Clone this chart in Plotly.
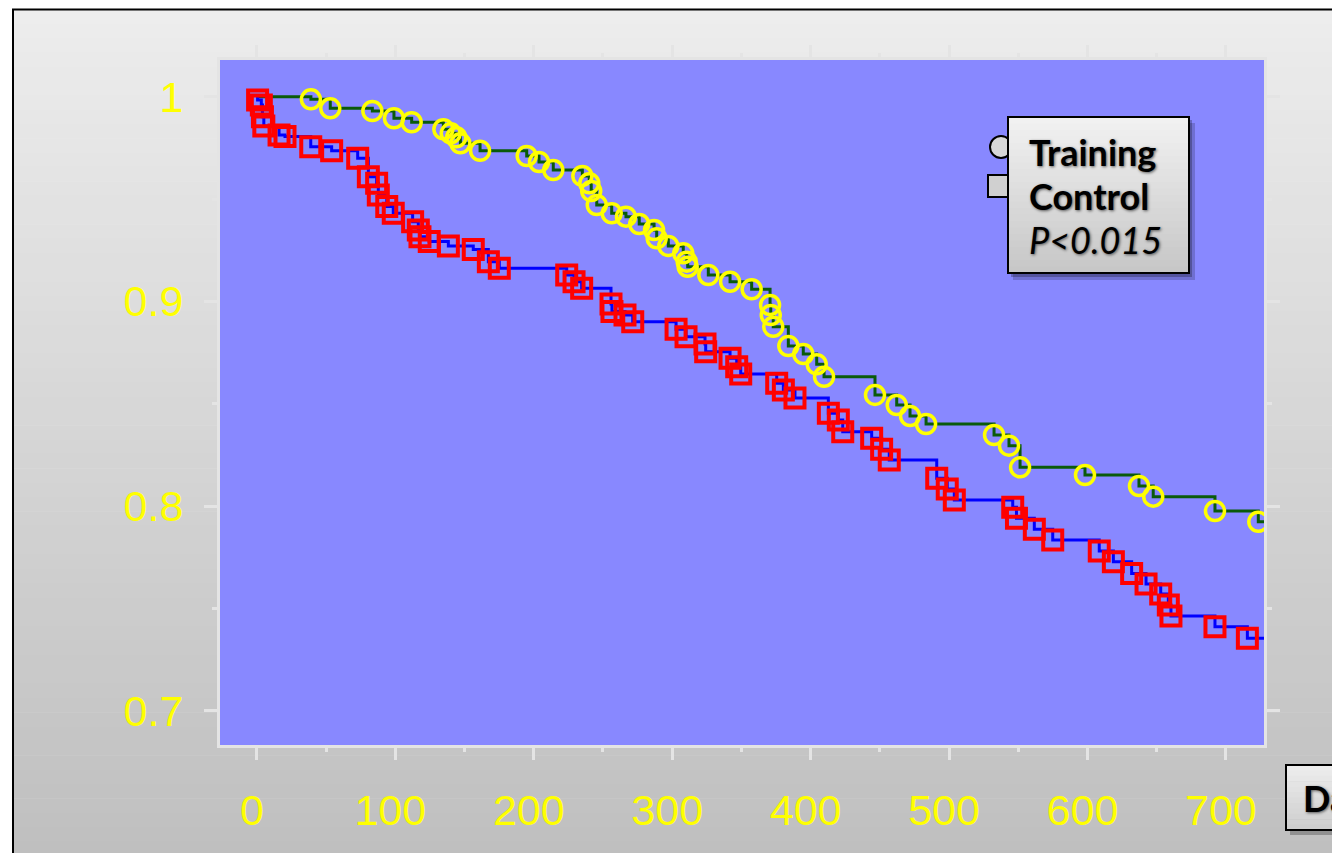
import plotly.graph_objects as go

# ---------------- data ----------------
train_days = [39, 53, 83.4, 99, 111.8, 134.7, 140, 144, 147, 161.2, 194.9, 203.8, 214.1,
              235.1, 240.1, 241.5, 245.5, 256.3, 266.6, 276.2, 286.9, 288.8, 297.2, 308,
              310.5, 311.2, 326.1, 341.8, 357.4, 370.7, 371.2, 373, 383.9, 394.7, 404.4,
              409.7, 446.5, 462.2, 471.8, 483.4, 532.5, 543.3, 551.3, 598.2, 637.2, 647.5,
              692.1, 723.4]
train_surv = [0.9987, 0.9943, 0.9930, 0.9895, 0.9875, 0.9841, 0.9821, 0.9802, 0.9772,
              0.9736, 0.9710, 0.9681, 0.9642, 0.9613, 0.9577, 0.9539, 0.9471, 0.9430,
              0.9414, 0.9378, 0.9349, 0.9308, 0.9271, 0.9235, 0.9194, 0.9169, 0.9129,
              0.9096, 0.9059, 0.8982, 0.8933, 0.8876, 0.8782, 0.8743, 0.8693, 0.8632,
              0.8543, 0.8494, 0.8440, 0.8401, 0.8347, 0.8295, 0.8189, 0.8152, 0.8098,
              0.8046, 0.7976, 0.7923]

ctrl_days = [0.5, 3.2, 4, 5, 16, 20.3, 38.9, 54, 72.8, 80.5, 86.5, 87.7, 93.8, 98.5,
             112.5, 116.6, 117.8, 124.5, 138.3, 156.3, 167.2, 175.1, 223.8, 229.1, 234.6,
             255.8, 256.5, 265.9, 271.5, 302.8, 310, 323.7, 324.2, 341.8, 346.6, 349.5,
             375.5, 380.3, 388.7, 412.8, 420, 423.2, 444.1, 451.3, 456.8, 491.1, 498.7,
             503.8, 546, 548.7, 561.6, 574.9, 608.5, 618.7, 631.9, 642.3, 652.9, 658.4,
             660.3, 692.1, 715.5]
ctrl_surv = [0.9984, 0.9959, 0.9902, 0.9857, 0.9813, 0.9805, 0.9756, 0.9736, 0.9699,
             0.9609, 0.9577, 0.9520, 0.9463, 0.9430, 0.9389, 0.9349, 0.9316, 0.9292,
             0.9271, 0.9254, 0.9194, 0.9162, 0.9129, 0.9096, 0.9064, 0.8987, 0.8950,
             0.8933, 0.8901, 0.8864, 0.8827, 0.8792, 0.8754, 0.8722, 0.8681, 0.8645,
             0.8600, 0.8567, 0.8528, 0.8453, 0.8420, 0.8363, 0.8331, 0.8277, 0.8225,
             0.8136, 0.8083, 0.8030, 0.7994, 0.7940, 0.7886, 0.7834, 0.7780, 0.7728,
             0.7671, 0.7619, 0.7570, 0.7517, 0.7463, 0.7410, 0.7354]

start_day = 0
start_surv = 1.0
end_day = 730

x_tickvals = [0, 100, 200, 300, 400, 500, 600, 700]
x_minorvals = [50, 150, 250, 350, 450, 550, 650]
y_tickvals = [0.7, 0.8, 0.9, 1.0]
y_ticktext = ["0.7", "0.8", "0.9", "1"]
y_minorvals = [0.75, 0.85, 0.95]

legend_labels = ["Training", "Control"]
p_label = "P&lt;0.015"
x_title = "Days"

# ---------------- layout geometry (screen pixels, page offset 8px) ----------------
OFF = 8
W, H = 1340, 853
ML, MT = 220 - OFF, 60 - OFF
PR, PB = 1264 - OFF, 745 - OFF
MR, MB = W - PR, H - PB
PW, PH = PR - ML, PB - MT


def px(x):
    return (x - OFF - ML) / PW


def py(y):
    return (PB - (y - OFF)) / PH


def gray(v):
    v = int(round(v))
    return f"rgb({v},{v},{v})"


shapes = []


def gradient_rect(x0, y0, x1, y1, c_top, c_bot, n):
    for i in range(n):
        ya = y0 + (y1 - y0) * i / n
        yb = y0 + (y1 - y0) * (i + 1) / n + 0.6
        c = c_top + (c_bot - c_top) * (i + 0.5) / n
        shapes.append(dict(type="rect", xref="paper", yref="paper", layer="below",
                           x0=px(x0), x1=px(x1), y0=py(ya), y1=py(yb),
                           fillcolor=gray(c), line=dict(width=0)))


# page background gradient + frame
gradient_rect(13, 9, 1335, 870, 237, 190, 60)
shapes.append(dict(type="rect", xref="paper", yref="paper", layer="below",
                   x0=px(13), x1=px(1335), y0=py(9.5), y1=py(880),
                   fillcolor="rgba(0,0,0,0)", line=dict(color="black", width=2)))
# plot area
shapes.append(dict(type="rect", xref="paper", yref="paper", layer="below",
                   x0=0, x1=1, y0=0, y1=1, fillcolor="#8888ff", line=dict(width=0)))


def above_rect(x0, y0, x1, y1, fill, lc=None, lw=0, kind="rect"):
    shapes.append(dict(type=kind, xref="paper", yref="paper", layer="above",
                       x0=px(x0), x1=px(x1), y0=py(y0), y1=py(y1),
                       fillcolor=fill,
                       line=dict(color=lc or "rgba(0,0,0,0)", width=lw)))


def above_gradient(x0, y0, x1, y1, c_top, c_bot, n):
    for i in range(n):
        ya = y0 + (y1 - y0) * i / n
        yb = y0 + (y1 - y0) * (i + 1) / n + 0.6
        c = c_top + (c_bot - c_top) * (i + 0.5) / n
        above_rect(x0, ya, x1, min(yb, y1), gray(c))


# legend symbols peeking behind the box
above_rect(990, 136, 1012, 158, "#d8d8d8", "black", 2, kind="circle")
above_rect(988, 175, 1010, 197, "#d0d0d0", "black", 2)
# legend box: shadow, gradient, border
above_rect(1013, 123, 1195, 280, "rgba(0,0,0,0.18)")
above_rect(1011, 120, 1192, 277, "rgba(0,0,0,0.25)")
above_gradient(1008, 117, 1189, 273, 242, 198, 24)
above_rect(1008, 117, 1189, 273, "rgba(0,0,0,0)", "black", 2)
# axis title box (cut by the page edge)
above_rect(1290, 770, 1420, 835, "rgba(0,0,0,0.25)")
above_gradient(1286, 765, 1420, 830, 238, 205, 12)
above_rect(1286, 765, 1420, 830, "rgba(0,0,0,0)", "black", 2)

fig = go.Figure()

# step lines
fig.add_trace(go.Scatter(
    x=[start_day] + train_days + [end_day],
    y=[start_surv] + train_surv + [train_surv[-1]],
    mode="lines", line=dict(color="#0a5a0a", width=3, shape="hv"),
    hoverinfo="skip", showlegend=False, cliponaxis=True))
fig.add_trace(go.Scatter(
    x=[start_day] + ctrl_days + [end_day],
    y=[start_surv] + ctrl_surv + [ctrl_surv[-1]],
    mode="lines", line=dict(color="#0000ff", width=3, shape="hv"),
    hoverinfo="skip", showlegend=False, cliponaxis=True))
# markers
fig.add_trace(go.Scatter(
    x=train_days, y=train_surv, mode="markers", name=legend_labels[0],
    marker=dict(symbol="circle", size=19, color="rgba(0,0,0,0)",
                line=dict(color="#ffff00", width=3.5)),
    hoverinfo="skip", showlegend=False, cliponaxis=True))
fig.add_trace(go.Scatter(
    x=ctrl_days, y=ctrl_surv, mode="markers", name=legend_labels[1],
    marker=dict(symbol="square", size=19, color="rgba(0,0,0,0)",
                line=dict(color="#ff0000", width=4)),
    hoverinfo="skip", showlegend=False, cliponaxis=True))

axis_col = "#e4e4e4"
tick_font = dict(family="Liberation Sans, Arial, sans-serif", size=43, color="#ffff00")
x0_px = 256.9 - OFF
slope_x = 1.3843
y1_px = 96.7 - OFF
slope_y = 2046.7

fig.update_xaxes(
    range=[-(x0_px - ML) / slope_x, (PR - x0_px) / slope_x],
    tickmode="array", tickvals=x_tickvals, ticks="outside", ticklen=12, tickwidth=3,
    tickcolor=axis_col, showline=True, linecolor=axis_col, linewidth=3, mirror="ticks",
    showgrid=False, zeroline=False, tickfont=tick_font, ticklabelstandoff=13,
    ticklabelshift=-5,
    minor=dict(tickmode="array", tickvals=x_minorvals, ticks="outside", ticklen=4,
               tickwidth=3, tickcolor=axis_col, showgrid=False),
)
fig.update_yaxes(
    range=[1 - (PB - y1_px) / slope_y, 1 + (y1_px - MT) / slope_y],
    tickmode="array", tickvals=y_tickvals, ticktext=y_ticktext, ticks="outside",
    ticklen=13, tickwidth=3, tickcolor=axis_col, showline=True, linecolor=axis_col,
    linewidth=3, mirror="ticks", showgrid=False, zeroline=False, tickfont=tick_font,
    ticklabelstandoff=12,
    minor=dict(tickmode="array", tickvals=y_minorvals, ticks="outside", ticklen=5,
               tickwidth=3, tickcolor=axis_col, showgrid=False),
)

leg_font = dict(family="Lato, Carlito, sans-serif", size=36, color="black",
                shadow="1px 1px 3px rgba(0,0,0,0.6)")
annotations = [
    dict(text="<b>" + legend_labels[0] + "</b>", x=px(1027), y=py(152)),
    dict(text="<b>" + legend_labels[1] + "</b>", x=px(1027), y=py(196)),
    dict(text="<i>" + p_label + "</i>", x=px(1027), y=py(240)),
    dict(text="<b>" + x_title + "</b>", x=px(1301), y=py(798)),
]
for a in annotations:
    a.update(xref="paper", yref="paper", xanchor="left", yanchor="middle",
             showarrow=False, font=leg_font)

fig.update_layout(
    width=W, height=H, autosize=False,
    margin=dict(l=ML, r=MR, t=MT, b=MB, pad=0),
    paper_bgcolor="white", plot_bgcolor="#8888ff",
    shapes=shapes, annotations=annotations, showlegend=False,
)

fig.write_html("out.html")
